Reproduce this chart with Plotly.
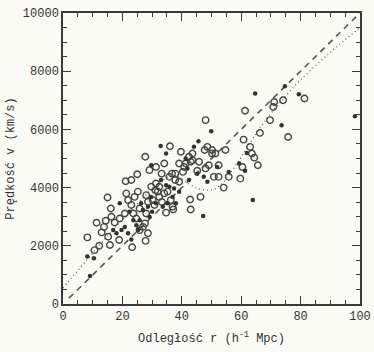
import plotly.graph_objects as go

# Open circles (distance r [h^-1 Mpc], velocity v [km/s])
open_r = [8.2, 10.6, 11.3, 12.2, 13.0, 13.8, 14.4, 15.0, 15.2, 15.8, 16.1, 16.3, 17.4, 18.9, 19.1,
          20.8, 21.3, 21.1, 23.0, 25.0, 23.3, 25.2, 25.8, 27.8, 28.6, 27.7, 28.0, 29.7, 29.1, 31.3,
          31.1, 32.4, 33.2, 34.1, 36.0, 34.7, 36.3, 37.1, 37.8, 39.1, 39.7, 40.8, 42.8, 43.0, 42.4,
          43.6, 45.2, 46.3, 48.0, 47.7, 49.1, 48.6, 50.2, 51.3, 52.4, 54.1, 54.7, 55.8, 59.7, 60.4,
          60.8, 61.3, 63.0, 63.6, 64.4, 65.6, 66.3, 69.7, 70.8, 71.1, 74.1, 75.8, 81.3,
          21.9, 23.0, 24.1, 23.7, 24.7, 25.8, 26.9, 27.6, 28.0, 28.6, 30.2, 30.8, 31.9, 33.3, 34.1,
          35.2, 36.9, 31.3, 32.4, 35.8, 36.7, 37.8, 39.1, 40.4, 41.3, 43.0, 43.6, 45.8, 48.0, 50.2,
          50.8, 52.4]
open_v = [2290, 1850, 2790, 2000, 2460, 2650, 2860, 3660, 2310, 2030, 3280, 3000, 2800, 2200, 2940,
          3110, 3800, 4220, 4260, 4460, 1950, 3860, 3280, 2170, 2430, 5060, 3740, 4030, 4600, 4710,
          3910, 3680, 4480, 4830, 5420, 3140, 3570, 3250, 4260, 4830, 5230, 4710, 3590, 3250, 5060,
          5170, 4580, 3680, 6320, 5290, 4770, 5400, 5290, 5170, 4770, 4000, 5290, 4370, 4310, 4710,
          5650, 6640, 5400, 5170, 5030, 4770, 5880, 6320, 6770, 6940, 7000, 5740, 7060,
          3570, 3400, 3680, 3110, 2940, 2540, 2650, 2770, 3110, 3510, 3570, 3400, 3860, 3510, 3800,
          3860, 3340, 4140, 4030, 4370, 4480, 4480, 4200, 4540, 4830, 4890, 4940, 4890, 4660, 5170,
          4370, 4370]

# Filled dots
fill_r = [8.2, 10.4, 9.1, 16.9, 19.1, 20.8, 21.9, 23.0, 24.7, 25.8, 26.3, 29.1, 30.0, 32.9, 33.0,
          34.7, 35.2, 36.9, 38.0, 41.3, 42.4, 44.1, 45.6, 47.2, 47.4, 49.9, 51.9, 55.8, 59.3, 61.3,
          61.9, 63.9, 64.7, 73.6, 74.7, 79.4, 98.3,
          22.4, 23.7, 25.3, 26.9, 28.6, 29.7, 31.3, 33.6, 35.8, 37.4, 39.1, 41.9, 45.2, 48.6, 18.0,
          19.7, 29.7, 34.7]
fill_v = [1630, 1570, 960, 2540, 3460, 2650, 2430, 2220, 2710, 2880, 3460, 3000, 3170, 5430, 4260,
          4080, 3460, 3680, 3460, 5000, 4260, 5400, 5590, 3020, 4370, 5940, 4710, 4540, 4830, 4580,
          5190, 3570, 7230, 6140, 7480, 7210, 6450,
          3170, 2880, 2540, 3230, 3340, 3680, 3460, 3340, 4030, 3970, 3860, 4660, 4480, 4200, 2430,
          2540, 4770, 5170]

# Hubble line (dashed) and infall model curve (dotted)
hubble_r = [2, 100]
hubble_v = [200, 10000]
model_r = [0, 10, 20, 30, 35, 38, 42, 46, 50, 53, 56, 60, 65, 70, 75, 80, 90, 100]
model_v = [550, 1750, 2900, 3950, 4350, 4400, 4150, 3950, 3920, 4080, 4450, 5050, 5850, 6550, 7150, 7700, 8650, 9500]

x_ticks = [0, 20, 40, 60, 80, 100]
y_ticks = [0, 2000, 4000, 6000, 8000, 10000]
y_labels = ["0", "2000", "4000", "6000", "8000", "10000"]

ink = "#3a3a3a"
font = "Liberation Mono, DejaVu Sans Mono, monospace"

fig = go.Figure()
fig.add_trace(go.Scatter(x=hubble_r, y=hubble_v, mode="lines",
                         line=dict(color="#555", width=1.6, dash="6px,5px"), hoverinfo="skip"))
fig.add_trace(go.Scatter(x=model_r, y=model_v, mode="lines", line_shape="spline",
                         line=dict(color="#555", width=1.2, dash="1px,3px"), hoverinfo="skip"))
fig.add_trace(go.Scatter(x=open_r, y=open_v, mode="markers",
                         marker=dict(symbol="circle-open", size=6.5, color="#444",
                                     line=dict(width=1.4, color="#444"))))
fig.add_trace(go.Scatter(x=fill_r, y=fill_v, mode="markers",
                         marker=dict(symbol="circle", size=4.5, color="#333")))

axis_common = dict(showgrid=False, zeroline=False, showline=True, linecolor=ink, linewidth=1.5,
                   mirror="ticks", ticks="inside", ticklen=8, tickwidth=1.2, tickcolor=ink,
                   automargin=False,
                   tickfont=dict(family=font, size=12, color="#333"))
fig.update_xaxes(range=[0, 100], tickvals=x_ticks,
                 minor=dict(dtick=5, ticks="inside", ticklen=4, tickcolor=ink, tickwidth=1),
                 title=dict(text="Odległość r (h<sup>-1</sup> Mpc)", standoff=10,
                            font=dict(family=font, size=12, color="#333")),
                 **axis_common)
fig.update_yaxes(range=[0, 10000], tickvals=y_ticks, ticktext=y_labels,
                 minor=dict(dtick=500, ticks="inside", ticklen=4, tickcolor=ink, tickwidth=1),
                 title=dict(text="Prędkość v (km/s)", standoff=6,
                            font=dict(family=font, size=12, color="#333")),
                 **axis_common)
fig.update_layout(width=374, height=352, margin=dict(l=63, r=14, t=13, b=48),
                  paper_bgcolor="#fbfbf6", plot_bgcolor="#fbfbf6", showlegend=False)
fig.write_html("out.html", config={"displayModeBar": False},
               post_script="document.body.style.margin='0px';document.body.style.overflow='hidden';")
